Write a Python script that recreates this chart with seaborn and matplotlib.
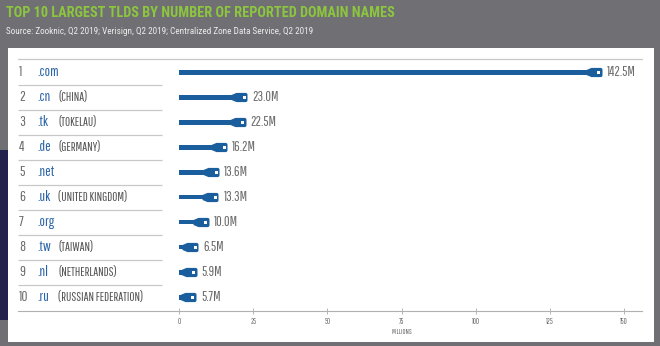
import matplotlib
matplotlib.use("Agg")
import matplotlib.pyplot as plt
import seaborn as sns
import pandas as pd
import numpy as np
from matplotlib.patches import Rectangle
from matplotlib.path import Path

ranks = ["1", "2", "3", "4", "5", "6", "7", "8", "9", "10"]
tlds = [".com", ".cn", ".tk", ".de", ".net", ".uk", ".org", ".tw", ".nl", ".ru"]
countries = ["", "(CHINA)", "(TOKELAU)", "(GERMANY)", "", "(UNITED KINGDOM)", "",
             "(TAIWAN)", "(NETHERLANDS)", "(RUSSIAN FEDERATION)"]
values = [142.5, 23.0, 22.5, 16.2, 13.6, 13.3, 10.0, 6.5, 5.9, 5.7]
value_labels = ["142.5M", "23.0M", "22.5M", "16.2M", "13.6M", "13.3M", "10.0M", "6.5M", "5.9M", "5.7M"]
xticks = [0, 25, 50, 75, 100, 125, 150]

title = "TOP 10 LARGEST TLDS BY NUMBER OF REPORTED DOMAIN NAMES"
subtitle = "Source: Zooknic, Q2 2019; Verisign, Q2 2019; Centralized Zone Data Service, Q2 2019"
xlabel = "MILLIONS"

sns.set_theme(style="white")
COND = ["Roboto Condensed", "DejaVu Sans"]
GOTH = ["Pathway Gothic One", "Roboto Condensed", "DejaVu Sans"]
plt.rcParams["font.family"] = COND

W, H = 660, 346
fig = plt.figure(figsize=(W / 100, H / 100), dpi=100)
fig.patch.set_facecolor("#706f74")

def fx(px):
    return px / W

def fy(py):
    return 1 - py / H

# white panel
fig.patches.append(Rectangle((fx(8), fy(342)), fx(654) - fx(8), fy(48) - fy(342),
                             transform=fig.transFigure, facecolor="white", edgecolor="none", zorder=-2))
# dark strip at left edge
fig.patches.append(Rectangle((0, fy(320)), fx(8), fy(150) - fy(320),
                             transform=fig.transFigure, facecolor="#22224c", edgecolor="none", zorder=-2))

# title & subtitle
fig.text(fx(6), fy(13), title, color="#8cc63e", fontsize=10.3, fontweight="bold",
         va="center", ha="left", family=COND)
fig.text(fx(6), fy(31), subtitle, color="#ececec", fontsize=6.6, va="center", ha="left", family=COND)

# axes geometry
ax_left_px, ax_right_px = 18, 642
ax_top_px, ax_bot_px = 59, 311
x0_px, x150_px = 179, 624
ppu = (x150_px - x0_px) / 150.0
xmin = (ax_left_px - x0_px) / ppu
xmax = (ax_right_px - x0_px) / ppu
row0_px, row_step = 72, 25
ytop = (ax_top_px - row0_px) / row_step
ybot = (ax_bot_px - row0_px) / row_step

ax = fig.add_axes([fx(ax_left_px), fy(ax_bot_px), fx(ax_right_px) - fx(ax_left_px),
                   fy(ax_top_px) - fy(ax_bot_px)])
ax.set_facecolor("none")

df = pd.DataFrame({"tld": tlds, "value": values})
blue = "#1b5e9d"
sns.barplot(data=df, y="tld", x="value", orient="h", color=blue, width=0.2,
            saturation=1, ax=ax, zorder=3, linewidth=0, edgecolor="none")

# plug end marker (right end at the data value)
plug_verts = [(-16, -2.5), (-11, -4.6), (-1.5, -4.6), (-0.4, -4.0), (0, -3.0),
              (0, 3.0), (-0.4, 4.0), (-1.5, 4.6), (-11, 4.6), (-16, 2.5), (-16, -2.5)]
plug_codes = [Path.MOVETO] + [Path.LINETO] * (len(plug_verts) - 2) + [Path.CLOSEPOLY]
plug = Path(plug_verts, plug_codes)
px_to_pt = 72 / 100
size_pt = 2 * 16 * px_to_pt
idx = np.arange(len(values))
vals = np.array(values)
ax.scatter(vals, idx, marker=plug, s=size_pt ** 2, color=blue, linewidths=0, zorder=4)
ax.scatter(vals - 3.5 / ppu, idx, marker="s", s=(3 * px_to_pt) ** 2, color="white",
           linewidths=0, zorder=5)

for i, (v, lab) in enumerate(zip(values, value_labels)):
    ax.text(v + 5 / ppu, i, lab, color="#6b6b6b", fontsize=10, va="center", ha="left",
            family=GOTH, zorder=6)

ax.set_xlim(xmin, xmax)
ax.set_ylim(ybot, ytop)
ax.set_yticks([])
ax.set_ylabel("")
ax.set_xticks(xticks)
ax.set_xticklabels([str(t) for t in xticks], fontsize=5.5, color="#666666", family=GOTH)
ax.tick_params(axis="x", direction="inout", length=4, width=0.6, color="#aaaaaa", pad=2,
               bottom=True)
ax.set_xlabel(xlabel, fontsize=5.2, color="#666666", labelpad=2, family=GOTH)
ax.xaxis.set_label_coords((x0_px + 75 * ppu - ax_left_px) / (ax_right_px - ax_left_px), -0.07)

for s in ["top", "right", "left"]:
    ax.spines[s].set_visible(False)
ax.spines["bottom"].set_color("#b0b0b0")
ax.spines["bottom"].set_linewidth(0.8)

# top rule and row separators
ax.axhline(ytop, color="#c8c8c8", lw=0.9, zorder=1, clip_on=False)
sep_right = (162 - x0_px) / ppu
ax.hlines(idx[:-1] + 0.5, xmin, sep_right, color="#c8c8c8", lw=0.9, zorder=1)

# row labels
for i in range(len(tlds)):
    ax.text((19 - x0_px) / ppu, i, ranks[i], color="#6b6b6b", fontsize=10.5, va="center",
            ha="left", family=GOTH)
    ax.text((37 - x0_px) / ppu, i, tlds[i], color="#2a64a8", fontsize=10.5, va="center",
            ha="left", family=GOTH)
    if countries[i]:
        ax.text((58 - x0_px) / ppu, i, countries[i], color="#555555", fontsize=9,
                va="center", ha="left", family=GOTH)

fig.savefig("out.png", dpi=100, facecolor=fig.get_facecolor())
